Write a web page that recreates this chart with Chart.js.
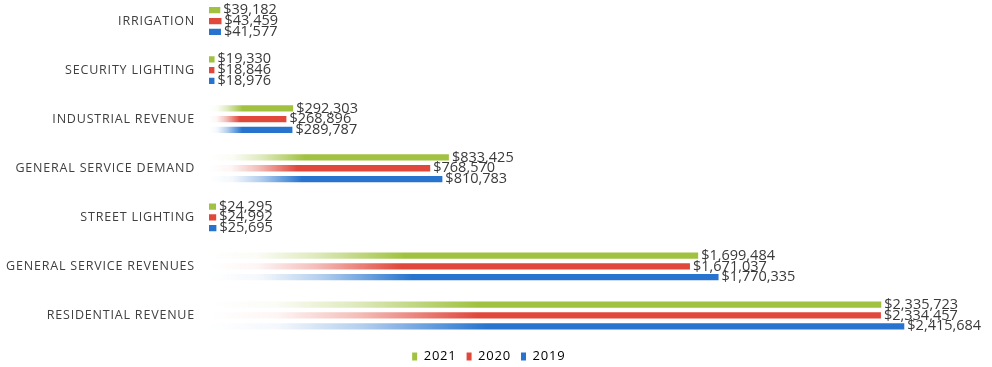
<!DOCTYPE html>
<html>
<head>
<meta charset="utf-8">
<script src="https://cdn.jsdelivr.net/npm/chart.js@4"></script>
<style>
  html, body { margin: 0; padding: 0; background: #fff; overflow: hidden; }
  #wrap { position: absolute; left: 0; top: -25px; width: 992px; height: 398px; }
</style>
</head>
<body>
<div id="wrap"><canvas id="revChart"></canvas></div>
<script>
const categories = ['IRRIGATION', 'SECURITY LIGHTING', 'INDUSTRIAL REVENUE', 'GENERAL SERVICE DEMAND',
    'STREET LIGHTING', 'GENERAL SERVICE REVENUES', 'RESIDENTIAL REVENUE'];
const rev2021 = [39182, 19330, 292303, 833425, 24295, 1699484, 2335723];
const rev2020 = [43459, 18846, 268896, 768570, 24992, 1671037, 2334457];
const rev2019 = [41577, 18976, 289787, 810783, 25695, 1770335, 2415684];
const seriesLabels = ['2021', '2020', '2019'];
const seriesColors = [[160, 194, 64], [224, 72, 60], [38, 116, 206]];

const money = v => '$' + v.toLocaleString('en-US');

// bars fade in from the axis, like the printed original
function barFill(rgb) {
    return ctx => {
        const chart = ctx.chart;
        const solid = `rgb(${rgb.join(',')})`;
        if (!chart.chartArea || ctx.type !== 'data') return solid;
        const xs = chart.scales.x;
        const x0 = xs.getPixelForValue(0);
        const x1 = xs.getPixelForValue(ctx.raw);
        if (x1 - x0 < 25) return solid;
        const g = chart.ctx.createLinearGradient(x0, 0, x1, 0);
        g.addColorStop(0, `rgba(${rgb.join(',')},0)`);
        g.addColorStop(0.1, `rgba(${rgb.join(',')},0.05)`);
        g.addColorStop(0.22, `rgba(${rgb.join(',')},0.35)`);
        g.addColorStop(0.4, solid);
        g.addColorStop(1, solid);
        return g;
    };
}

// category names and legend are set a little wide
const wideText = {
    id: 'wideText',
    beforeDraw(chart) { chart.ctx.letterSpacing = '0.8px'; }
};

const valueLabels = {
    id: 'valueLabels',
    afterDatasetsDraw(chart) {
        const c = chart.ctx;
        c.save();
        c.letterSpacing = '0px';
        c.font = '14.5px "Open Sans"';
        c.fillStyle = '#3a3a3a';
        c.textBaseline = 'middle';
        c.textAlign = 'left';
        chart.data.datasets.forEach((ds, i) => {
            chart.getDatasetMeta(i).data.forEach((bar, j) => {
                c.fillText(money(ds.data[j]), bar.x + 3, bar.y);
            });
        });
        c.restore();
    }
};

const ctx = document.getElementById('revChart').getContext('2d');
new Chart(ctx, {
    type: 'bar',
    data: {
        labels: categories,
        datasets: [rev2021, rev2020, rev2019].map((d, i) => ({
            label: seriesLabels[i],
            data: d,
            backgroundColor: barFill(seriesColors[i]),
            borderWidth: 0,
            categoryPercentage: 0.66,
            barPercentage: 0.58
        }))
    },
    options: {
        indexAxis: 'y',
        responsive: true,
        maintainAspectRatio: false,
        animation: false,
        layout: { padding: { top: 0, right: 24, bottom: 0, left: 0 } },
        scales: {
            x: {
                display: false,
                min: 0,
                max: 2637000
            },
            y: {
                grid: { display: false, drawTicks: false },
                border: { display: false },
                ticks: {
                    color: '#404040',
                    font: { family: 'Open Sans', size: 12.5 },
                    padding: 14
                },
                afterFit(scale) { scale.width = 209; }
            }
        },
        plugins: {
            legend: {
                position: 'bottom',
                labels: {
                    boxWidth: 5,
                    boxHeight: 8,
                    padding: 10,
                    color: '#404040',
                    font: { family: 'Open Sans', size: 13 },
                    generateLabels(chart) {
                        return chart.data.datasets.map((ds, i) => ({
                            text: ds.label,
                            fillStyle: `rgb(${seriesColors[i].join(',')})`,
                            strokeStyle: 'transparent',
                            lineWidth: 0,
                            datasetIndex: i
                        }));
                    }
                }
            },
            tooltip: { enabled: false }
        }
    },
    plugins: [wideText, valueLabels]
});
</script>
</body>
</html>
